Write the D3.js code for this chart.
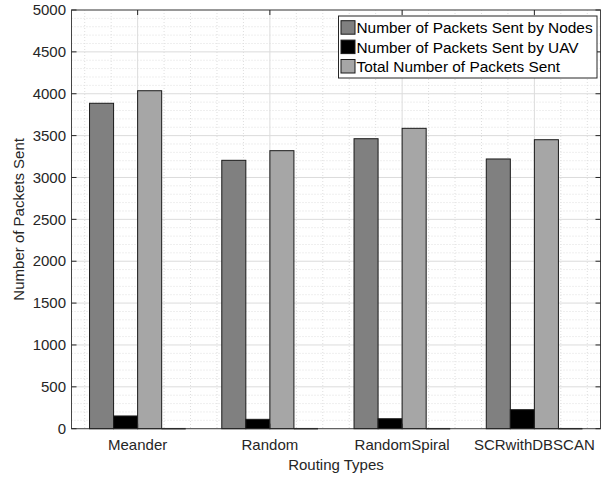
<!DOCTYPE html>
<html>
<head>
<meta charset="utf-8">
<script src="https://cdn.jsdelivr.net/npm/d3@7"></script>
<style>
  html, body { margin: 0; padding: 0; background: #fff; }
  svg { display: block; font-family: "Liberation Sans", Arial, Helvetica, sans-serif; }
</style>
</head>
<body>
<svg id="chart" width="608" height="477"></svg>
<script>
// Routing types on the x axis
const categories = ["Meander", "Random", "RandomSpiral", "SCRwithDBSCAN"];

// Packet counts per routing type
const sentByNodes = [3886, 3205, 3463, 3221];
const sentByUAV   = [152, 112, 119, 227];
const totalSent   = [4036, 3320, 3587, 3451];
const unusedSeries = [0, 0, 0, 0];

const seriesNames = [
  "Number of Packets Sent by Nodes",
  "Number of Packets Sent by UAV",
  "Total Number of Packets Sent"
];
const seriesColors = ["#808080", "#000000", "#a6a6a6", "#404040"];

const yTicks = [0, 500, 1000, 1500, 2000, 2500, 3000, 3500, 4000, 4500, 5000];

const series = [sentByNodes, sentByUAV, totalSent, unusedSeries];

const svg = d3.select("#chart");
const L = 71.5, R = 600.5, T = 10, B = 428.7;
const axisColor = "#262626";

const x = d3.scaleLinear().domain([0.5, 4.5]).range([L, R]);
const y = d3.scaleLinear().domain([0, 5000]).range([B, T]);

// grouped bars: four touching bars per category
const n = series.length;
const groupWidth = Math.min(0.8, n / (n + 1.5));
const barW = groupWidth / n;

// minor grid (dotted)
const minorX = d3.range(0.6, 4.45, 0.2).filter(v => Math.abs(v - Math.round(v)) > 0.01);
const minorY = d3.range(100, 5000, 100).filter(v => v % 500 !== 0);
const grid = svg.append("g");
grid.selectAll(".mx").data(minorX).join("line")
  .attr("x1", d => x(d)).attr("x2", d => x(d)).attr("y1", T).attr("y2", B)
  .attr("stroke", "#dedede").attr("stroke-width", 1).attr("stroke-dasharray", "1,2");
grid.selectAll(".my").data(minorY).join("line")
  .attr("x1", L).attr("x2", R).attr("y1", d => y(d)).attr("y2", d => y(d))
  .attr("stroke", "#dedede").attr("stroke-width", 1).attr("stroke-dasharray", "1,2");
// major grid
grid.selectAll(".gx").data(d3.range(1, 5)).join("line")
  .attr("x1", d => x(d)).attr("x2", d => x(d)).attr("y1", T).attr("y2", B)
  .attr("stroke", "#dcdcdc").attr("stroke-width", 1);
grid.selectAll(".gy").data(yTicks).join("line")
  .attr("x1", L).attr("x2", R).attr("y1", d => y(d)).attr("y2", d => y(d))
  .attr("stroke", "#dcdcdc").attr("stroke-width", 1);

// bars
const bars = svg.append("g");
series.forEach((vals, s) => {
  const off = -groupWidth / 2 + s * barW;
  vals.forEach((v, i) => {
    const x0 = x(i + 1 + off), x1 = x(i + 1 + off + barW);
    if (v > 0) {
      bars.append("rect")
        .attr("x", x0).attr("y", y(v))
        .attr("width", x1 - x0).attr("height", y(0) - y(v))
        .attr("fill", seriesColors[s])
        .attr("stroke", "#1a1a1a").attr("stroke-width", 1);
    } else {
      bars.append("line")
        .attr("x1", x0).attr("x2", x1).attr("y1", y(0)).attr("y2", y(0))
        .attr("stroke", "#333").attr("stroke-width", 1.5);
    }
  });
});

// axes box
const ax = svg.append("g").attr("fill", "none").attr("stroke", axisColor).attr("stroke-width", 1);
ax.append("rect").attr("x", L).attr("y", T).attr("width", R - L).attr("height", B - T)
  .attr("stroke", axisColor).attr("stroke-opacity", 0.85);

// inward ticks on all four sides
const tickLen = 5;
yTicks.forEach(v => {
  ax.append("line").attr("x1", L).attr("x2", L + tickLen).attr("y1", y(v)).attr("y2", y(v));
  ax.append("line").attr("x1", R).attr("x2", R - tickLen).attr("y1", y(v)).attr("y2", y(v));
});
d3.range(1, 5).forEach(c => {
  ax.append("line").attr("x1", x(c)).attr("x2", x(c)).attr("y1", B).attr("y2", B - tickLen);
  ax.append("line").attr("x1", x(c)).attr("x2", x(c)).attr("y1", T).attr("y2", T + tickLen);
});

// tick labels
const lab = svg.append("g").attr("fill", axisColor).style("font-size", "15px");
yTicks.forEach(v => {
  lab.append("text").attr("x", L - 5.5).attr("y", y(v)).attr("dy", "0.35em")
    .attr("text-anchor", "end").text(v);
});
categories.forEach((c, i) => {
  lab.append("text").attr("x", x(i + 1)).attr("y", 450)
    .attr("text-anchor", "middle").text(c);
});

// axis titles
lab.append("text").attr("x", (L + R) / 2).attr("y", 470)
  .attr("text-anchor", "middle").text("Routing Types");
lab.append("text")
  .attr("transform", `translate(24,${(T + B) / 2}) rotate(-90)`)
  .attr("text-anchor", "middle").text("Number of Packets Sent");

// legend
const lg = svg.append("g");
lg.append("rect").attr("x", 338.5).attr("y", 16).attr("width", 258.5).attr("height", 62)
  .attr("fill", "#fff").attr("stroke", axisColor).attr("stroke-width", 1);
seriesNames.forEach((name, i) => {
  const yy = 20.7 + i * 19.4;
  lg.append("rect").attr("x", 341).attr("y", yy).attr("width", 14).attr("height", 13.5)
    .attr("fill", seriesColors[i]).attr("stroke", "#1a1a1a").attr("stroke-width", 1);
  lg.append("text").attr("x", 356.5).attr("y", yy + 12.4)
    .attr("fill", "#000").style("font-size", "15.4px").text(name);
});
</script>
</body>
</html>
